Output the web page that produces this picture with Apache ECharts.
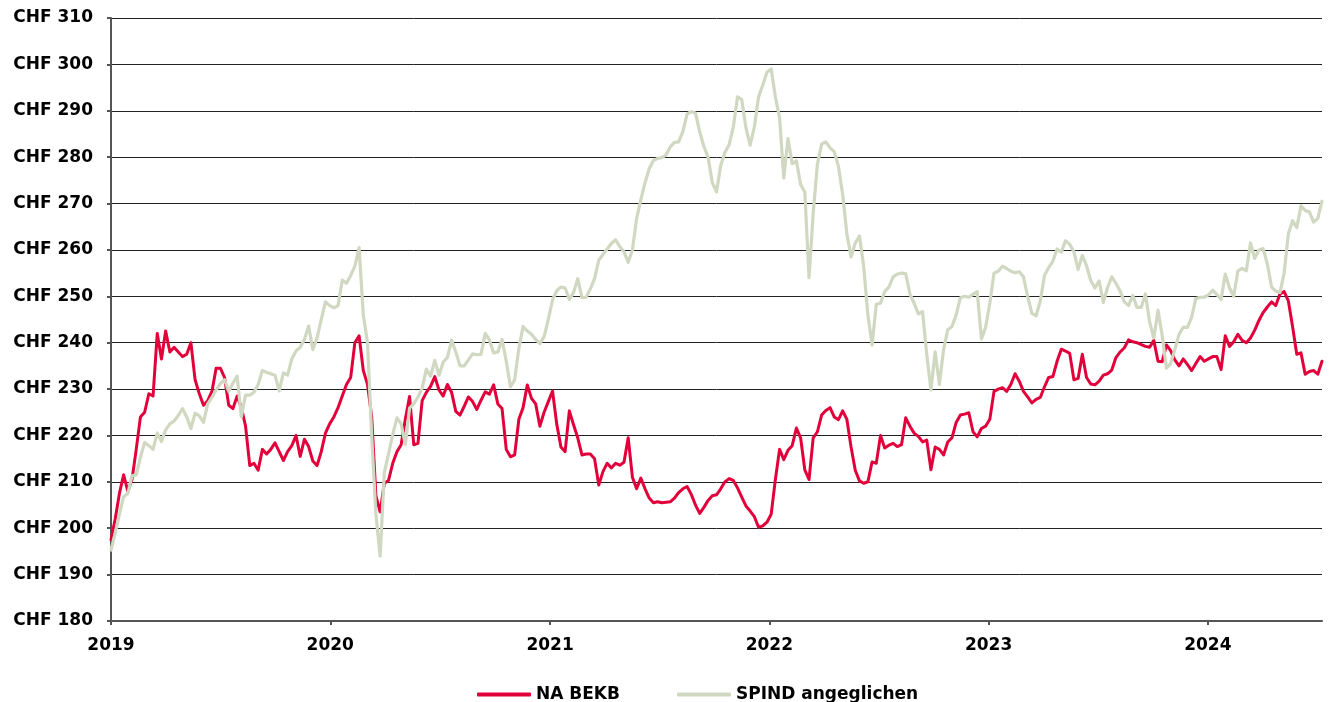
<!DOCTYPE html>
<html>
<head>
<meta charset="utf-8">
<script src="https://cdn.jsdelivr.net/npm/echarts@6/dist/echarts.min.js"></script>
<style>
  html, body { margin: 0; padding: 0; background: #fff; }
  #chart { width: 1329px; height: 702px; }
</style>
</head>
<body>
<div id="chart"></div>
<script>
// Weekly observations starting 2019-01-01
const startDate = Date.UTC(2019, 0, 1);
const weekStepDays = 7;

const seriesNames = ['NA BEKB', 'SPIND angeglichen'];

const bekb = [
  197.5, 202, 207.5, 211.5, 208, 210.5, 217, 224, 225, 229,
  228.5, 242, 236.5, 242.5, 238, 239, 238, 237, 237.5, 240,
  232, 229, 226.5, 227.5, 229.5, 234.5, 234.5, 232.5, 226.5, 225.8,
  228.5, 226, 222, 213.5, 214, 212.5, 217, 216, 217, 218.4,
  216.5, 214.6, 216.5, 217.8, 220, 215.5, 219.2, 217.6, 214.5, 213.5,
  216.5, 220.5, 222.5, 224, 226, 228.5, 231, 232.5, 240, 241.5,
  234, 231, 224, 207, 203.5, 209.7, 210.3, 214, 216.5, 218,
  223.5, 228.4, 218, 218.3, 227.5, 229.3, 230.6, 232.7, 229.8, 228.5,
  231, 229.3, 225.2, 224.4, 226.3, 228.3, 227.3, 225.6, 227.6, 229.4,
  228.9, 230.9, 226.8, 225.8, 217, 215.4, 215.8, 223.5, 226, 230.9,
  228, 226.8, 222, 225, 227.3, 229.6, 222.5, 217.5, 216.5, 225.3,
  222.3, 219.5, 215.8, 216, 216, 215, 209.3, 212.2, 214, 213,
  214, 213.6, 214.2, 219.5, 211, 208.5, 210.8, 208.5, 206.5, 205.5,
  205.7, 205.5, 205.6, 205.7, 206.5, 207.7, 208.5, 209, 207.3, 205,
  203.2, 204.5, 206, 207, 207.2, 208.5, 210, 210.7, 210.3, 208.7,
  206.7, 204.8, 203.7, 202.5, 200.2, 200.5, 201.3, 203, 210.5, 217,
  214.8, 216.8, 217.8, 221.6, 219.5, 212.6, 210.5, 219.5, 220.8, 224.4,
  225.4, 226, 224, 223.4, 225.3, 223.5, 217.5, 212.5, 210.2, 209.7,
  210, 214.3, 214, 220, 217.3, 217.9, 218.3, 217.6, 218, 223.8,
  222, 220.5, 219.8, 218.6, 219, 212.6, 217.5, 217, 215.8, 218.6,
  219.5, 222.8, 224.4, 224.6, 224.9, 220.8, 219.7, 221.5, 222, 223.5,
  229.5, 230, 230.3, 229.5, 231, 233.3, 231.7, 229.5, 228.3, 227,
  227.8, 228.2, 230.5, 232.5, 232.7, 236, 238.6, 238.2, 237.7, 232,
  232.3, 237.5, 232.5, 231.1, 230.9, 231.7, 233, 233.3, 234.1, 236.8,
  238, 238.9, 240.6, 240.2, 240, 239.6, 239.2, 239, 240.5, 236,
  235.9, 239.5, 238.3, 236.3, 235, 236.5, 235.3, 234, 235.5, 237,
  236, 236.5, 237, 237, 234.2, 241.5, 239.2, 240.2, 241.8, 240.5,
  240, 241, 242.7, 244.8, 246.5, 247.7, 248.8, 248, 250.5, 251,
  249, 243.5, 237.5, 237.8, 233.2, 233.8, 234, 233.2, 236
];

const spind = [
  195.3, 199, 203, 206.8, 207.5, 211.3, 211.5, 215.3, 218.5, 217.8,
  217, 220.5, 218.7, 221.2, 222.5, 223.1, 224.3, 225.8, 224, 221.5,
  224.8, 224.2, 222.8, 226.8, 228.2, 229.8, 231.2, 232, 229.5, 231.3,
  232.8, 224, 228.7, 228.7, 229.3, 231, 234, 233.6, 233.3, 233,
  229.6, 233.5, 233, 236.5, 238.2, 239, 240.7, 243.6, 238.5, 241,
  245, 248.8, 248, 247.5, 248, 253.5, 252.8, 254.5, 256.5, 260.5,
  246, 240, 220, 203, 194, 212, 216, 220.2, 223.8, 222.5,
  218, 225.9, 226.8, 228.3, 230.2, 234.3, 232.8, 236.2, 233, 235.8,
  236.8, 240.5, 238, 235, 235, 236.3, 237.6, 237.4, 237.5, 242,
  240.6, 237.8, 238, 240.7, 236, 230.5, 232, 238.8, 243.5, 242.5,
  241.8, 240.7, 239.8, 241.3, 245, 249.2, 251.2, 252, 251.8, 249.3,
  250.8, 253.8, 249.7, 249.8, 251.6, 253.8, 257.8, 259, 260.2, 261.4,
  262.2, 260.7, 259.6, 257.3, 260, 266.8, 270.8, 274.5, 277.5, 279.3,
  279.7, 279.9, 280.5, 282.2, 283.2, 283.3, 285.5, 289.3, 289.8, 289.5,
  285.5, 282.3, 280, 274.5, 272.5, 278.2, 281, 282.7, 286.5, 293,
  292.4, 286.3, 282.6, 286.5, 293, 295.5, 298.3, 299, 293, 288.5,
  275.5, 284, 278.6, 279.2, 274.1, 272.5, 254, 268, 278.5, 282.8,
  283.3, 282, 281.2, 278, 272, 263.5, 258.5, 261.5, 263, 256.5,
  246, 239.5, 248.3, 248.5, 251, 252, 254.2, 254.8, 255, 254.9,
  250.5, 248.5, 246.2, 246.7, 237.5, 229.8, 238, 231, 238.5, 242.8,
  243.5, 246, 249.7, 250, 249.8, 250.4, 251, 240.8, 243.3, 248.5,
  255, 255.4, 256.5, 256, 255.4, 255.1, 255.3, 254.2, 250, 246.3,
  245.8, 249, 254.5, 256.2, 257.6, 260.2, 259.5, 262, 261.2, 259.6,
  255.8, 258.8, 256.6, 253.4, 251.8, 253.3, 248.7, 251.9, 254.2, 252.8,
  251.1, 248.8, 248, 250.2, 247.6, 247.6, 250.5, 244.5, 241, 247,
  241.5, 234.5, 235.5, 238.5, 241.8, 243.3, 243.3, 245.5, 249.5, 249.8,
  249.8, 250.3, 251.3, 250.4, 249.3, 254.8, 251.8, 250, 255.5, 256,
  255.5, 261.5, 258.2, 260, 260.3, 257, 252, 251.1, 250.8, 255,
  263.5, 266.3, 264.8, 269.5, 268.5, 268.2, 266, 266.8, 270.5
];

const yearLabels = ['2019', '2020', '2021', '2022', '2023', '2024'];
const yMin = 180, yMax = 310, yStep = 10;
const currencyPrefix = 'CHF ';

const DAY = 24 * 3600 * 1000;
const dates = bekb.map((_, i) => startDate + i * weekStepDays * DAY);
const yearTicks = yearLabels.map(y => Date.UTC(+y, 0, 1));

const FONT = '"DejaVu Sans", "Liberation Sans", Arial, sans-serif';

const chart = echarts.init(document.getElementById('chart'), null, { renderer: 'canvas' });

chart.setOption({
  animation: false,
  backgroundColor: '#ffffff',
  grid: { left: 111, right: 7, top: 18, bottom: 81, containLabel: false },
  legend: {
    data: seriesNames,
    left: 472,
    top: 681,
    itemWidth: 54,
    itemHeight: 4,
    itemGap: 57,
    icon: 'roundRect',
    textStyle: { fontFamily: FONT, fontWeight: 'bold', fontSize: 17, color: '#000' }
  },
  xAxis: {
    type: 'value',
    min: dates[0],
    max: dates[dates.length - 1],
    axisLine: { show: true, onZero: false, lineStyle: { color: '#555', width: 2 } },
    axisTick: { show: true, customValues: yearTicks, length: 4, lineStyle: { color: '#555', width: 2 } },
    axisLabel: {
      customValues: yearTicks,
      formatter: v => String(new Date(v).getUTCFullYear()),
      fontFamily: FONT, fontWeight: 'bold', fontSize: 17, color: '#000', margin: 16
    },
    splitLine: { show: false }
  },
  yAxis: {
    type: 'value',
    min: yMin, max: yMax, interval: yStep,
    axisLine: { show: true, lineStyle: { color: '#555', width: 2 } },
    axisTick: { show: true, length: 4, lineStyle: { color: '#555', width: 2 } },
    axisLabel: {
      formatter: v => currencyPrefix + v,
      fontFamily: FONT, fontWeight: 'bold', fontSize: 17, color: '#000', margin: 18
    },
    splitLine: { show: true, lineStyle: { color: '#222', width: 1 } }
  },
  series: [
    {
      name: seriesNames[0], type: 'line', showSymbol: false, symbol: 'none',
      data: dates.map((d, i) => [d, bekb[i]]),
      lineStyle: { color: '#e2003b', width: 3, join: 'round', cap: 'round' },
      itemStyle: { color: '#e2003b' }
    },
    {
      name: seriesNames[1], type: 'line', showSymbol: false, symbol: 'none',
      data: dates.map((d, i) => [d, spind[i]]),
      lineStyle: { color: '#d0d8c1', width: 3.2, join: 'round', cap: 'round' },
      itemStyle: { color: '#d0d8c1' }
    }
  ]
});
</script>
</body>
</html>
